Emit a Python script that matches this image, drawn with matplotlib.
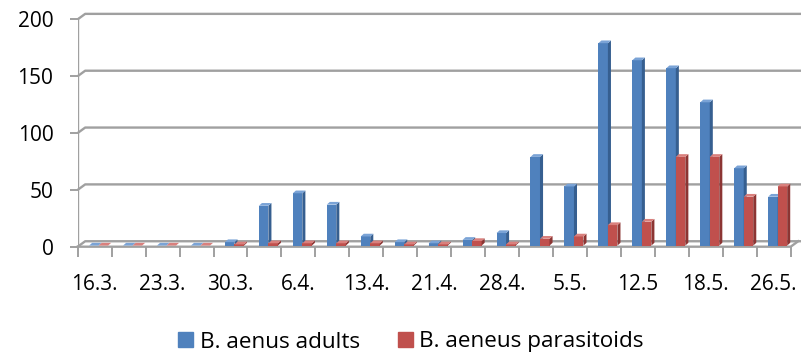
import matplotlib
matplotlib.use("Agg")
import matplotlib.pyplot as plt
from matplotlib.patches import Polygon, Patch
import numpy as np

plt.rcParams['font.family'] = ['Open Sans', 'DejaVu Sans']

dates = ["16.3.", "23.3.", "30.3.", "6.4.", "13.4.", "21.4.", "28.4.", "5.5.", "12.5", "18.5.", "26.5."]
adults = [0, 0, 0, 0, 3, 35, 46, 36, 8, 3, 2, 5, 11, 78, 52, 178, 163, 156, 126, 68, 43]
parasitoids = [0, 0, 0, 0, 1, 2, 2, 2, 2, 1, 1, 4, 1, 6, 8, 18, 21, 78, 78, 43, 52]
yticks = [0, 50, 100, 150, 200]

n = len(adults)
x = np.arange(n)

fig = plt.figure(figsize=(8.01, 3.54), dpi=100)
ax = fig.add_axes([77.7 / 801, 107.3 / 354, 723.3 / 801, 246.7 / 354])
ax.set_xlim(-0.5, n - 0.5 + 10.3 / 33.95)
ax.set_ylim(0, 217)
for s in ax.spines.values():
    s.set_visible(False)

grid_col = "#a0a0a0"
# depth of the back wall / floor
wdx, wdy = 0.22, 4.8
xmax = ax.get_xlim()[1]
for v in yticks:
    ax.plot([-0.5, -0.5 + wdx, xmax + 1], [v, v + wdy, v + wdy],
            color=grid_col, lw=1.7, zorder=1, clip_on=False, solid_capstyle="butt")
ax.plot([-0.5, -0.5], [0, 200], color=grid_col, lw=1.7, zorder=1)
ax.plot([-0.5, n - 0.5, n - 0.5 + wdx], [0, 0, wdy], color=grid_col, lw=1.7, zorder=1,
        clip_on=False)

# simple 3d column: front face, side face and top face
bw = 0.28
bdx, bdy = 0.09, 2.4
base = 1.0


def columns(xs, vals, front, side, top, z):
    ax.bar(xs, vals, width=bw, bottom=base, align="edge", color=front, lw=0, zorder=z)
    for xl, v in zip(xs, vals):
        xr = xl + bw
        yt = base + v
        ax.add_patch(Polygon([(xr, base), (xr + bdx, base + bdy), (xr + bdx, yt + bdy), (xr, yt)],
                             closed=True, color=side, lw=0, zorder=z))
        ax.add_patch(Polygon([(xl, yt), (xl + bdx, yt + bdy), (xr + bdx, yt + bdy), (xr, yt)],
                             closed=True, color=top, lw=0, zorder=z))


columns(x - 0.164, adults, "#4f81bd", "#365f90", "#7aa3d6", 3)
columns(x + 0.116, parasitoids, "#c0504d", "#8c3533", "#d9807d", 4)

ax.set_yticks(yticks)
ax.set_yticklabels([str(v) for v in yticks])
ax.set_xticks(np.arange(-0.5, n, 1.0))
ax.set_xticklabels([])
ax.set_xticks(x[::2], minor=True)
ax.set_xticklabels(dates, minor=True)
ax.tick_params(axis="y", length=5.5, width=1.4, color=grid_col, pad=12, labelsize=15)
ax.tick_params(axis="x", which="major", length=7, width=1.4, color=grid_col, direction="out")
ax.tick_params(axis="x", which="minor", length=0, pad=20, labelsize=15)

handles = [Patch(color="#4f81bd", label="B. aenus adults"),
           Patch(color="#c0504d", label="B. aeneus parasitoids")]
fig.legend(handles=handles, loc="center", bbox_to_anchor=(411 / 801, 1 - 342 / 354), ncol=2,
           frameon=False, fontsize=16.2, handlelength=0.65, handleheight=0.65,
           handletextpad=0.3, columnspacing=1.7)

fig.savefig("out.png", dpi=100)
